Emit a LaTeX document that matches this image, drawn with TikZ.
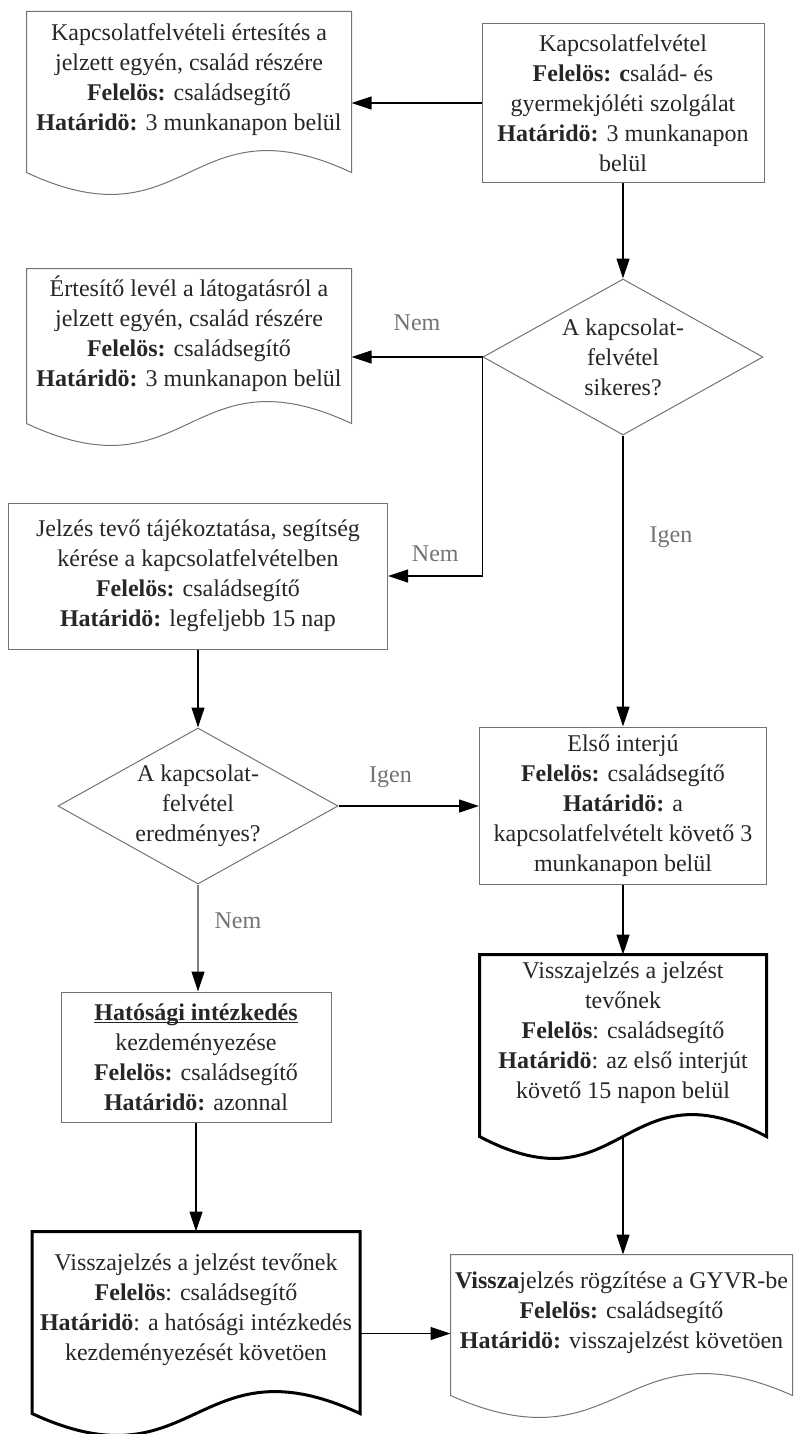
\documentclass[tikz,border=0pt]{standalone}
\usepackage{fontspec}
\setmainfont{Liberation Serif}
\usetikzlibrary{arrows.meta,positioning,shapes.geometric}

\tikzset{
  box/.style={draw=black!55, line width=0.5pt, align=center, inner sep=2pt,
    font=\fontsize{12}{15}\selectfont, text=black!85},
  docbox/.style={box, draw=none, text depth=15pt},
  docline/.style={draw=black!55, line width=0.5pt},
  thickdoc/.style={draw=black, line width=1.5pt},
  decision/.style={diamond, draw=black!55, line width=0.5pt, align=center, inner sep=0pt,
    shape aspect=1.78, minimum width=140pt, minimum height=78pt,
    font=\fontsize{12}{15}\selectfont, text=black!85},
  arr/.style={-{Triangle[length=10pt,width=6.5pt,black]}, line width=0.6pt},
  lbl/.style={text=black!55, font=\fontsize{12}{15}\selectfont, inner sep=1pt},
}

% document outline with a wavy bottom
\newcommand{\docshape}[2][]{%
  \draw[docline, #1] (#2.south east) -- (#2.north east) -- (#2.north west) -- (#2.south west)
    .. controls ([yshift=-38pt]#2.south) and ([yshift=38pt]#2.south) .. (#2.south east) -- cycle;}
% underline close to the baseline
\newcommand{\hatul}[1]{\setbox0\hbox{#1}\rlap{\rule[-1.6pt]{\wd0}{0.7pt}}\box0}

\begin{document}
\begin{tikzpicture}[x=0.5pt, y=-0.5pt]
  \useasboundingbox (0,0) rectangle (793,1434);

  % right column
  \node[box, minimum width=141pt, minimum height=79pt] (kapcs) at (623,103)
    {Kapcsolatfelvétel\\ \textbf{Felelös: c}salád- és\\ gyermekjóléti szolgálat\\
     \textbf{Határidö:} 3 munkanapon\\ belül};
  \node[decision] (sikeres) at (623,357) {A kapcsolat-\\felvétel\\sikeres?};
  \node[box, minimum width=143.5pt, minimum height=78.5pt] (interju) at (623,805.5)
    {Első interjú\\ \textbf{Felelös:} családsegítő\\ \textbf{Határidö:} a\\
     kapcsolatfelvételt követő 3\\ munkanapon belül};
  \node[docbox, minimum width=143pt, minimum height=90.5pt] (vissza) at (623,1045.5)
    {Visszajelzés a jelzést\\ tevőnek\\ \textbf{Felelös}: családsegítő\\
     \textbf{Határidö}: az első interjút\\ követő 15 napon belül};
  \node[docbox, minimum width=170.5pt, minimum height=70pt] (gyvr) at (621.5,1325)
    {\textbf{Vissza}jelzés rögzítése a GYVR-be\\ \textbf{Felelös:} családsegítő\\
     \textbf{Határidö:} visszajelzést követöen};

  % left column
  \node[docbox, minimum width=162pt, minimum height=80pt] (ertesites) at (189,92)
    {Kapcsolatfelvételi értesítés a\\ jelzett egyén, család részére\\
     \textbf{Felelös:} családsegítő\\ \textbf{Határidö:} 3 munkanapon belül};
  \node[docbox, minimum width=162pt, minimum height=77pt] (level) at (189,346)
    {Értesítő levél a látogatásról a\\ jelzett egyén, család részére\\
     \textbf{Felelös:} családsegítő\\ \textbf{Határidö:} 3 munkanapon belül};
  \node[box, minimum width=189.5pt, minimum height=73pt] (jelzo) at (198,576)
    {Jelzés tevő tájékoztatása, segítség\\ kérése a kapcsolatfelvételben\\
     \textbf{Felelös:} családsegítő\\ \textbf{Határidö:} legfeljebb 15 nap};
  \node[decision] (eredmenyes) at (198,806) {A kapcsolat-\\felvétel\\eredményes?};
  \node[box, minimum width=135pt, minimum height=65pt] (hatosagi) at (196,1057)
    {\hatul{\textbf{Hatósági intézkedés}}\\ kezdeményezése\\
     \textbf{Felelös:} családsegítő\\ \textbf{Határidö:} azonnal};
  \node[docbox, minimum width=163.5pt, minimum height=90.5pt] (visszaj) at (196,1322.5)
    {Visszajelzés a jelzést tevőnek\\ \textbf{Felelös}: családsegítő\\
     \textbf{Határidö}: a hatósági intézkedés\\ kezdeményezését követöen};

  % document outlines
  \docshape{ertesites}
  \docshape{level}
  \docshape{gyvr}
  \docshape[thickdoc]{vissza}
  \docshape[thickdoc]{visszaj}

  % connectors
  \draw[arr] (kapcs.west) -- (kapcs.west -| ertesites.east);
  \draw[arr] (kapcs.south) -- (kapcs.south |- sikeres.north);
  \draw[arr] (sikeres.west) -- node[lbl, above=12pt] {Nem} (sikeres.west -| level.east);
  \draw[arr] (sikeres.west) |- node[lbl, pos=0.75, above=6pt] {Nem} (jelzo.east);
  \draw[arr] (sikeres.south) -- node[lbl, pos=0.35, right=12pt] {Igen} (sikeres.south |- interju.north);
  \draw[arr] (jelzo.south) -- (jelzo.south |- eredmenyes.north);
  \draw[arr] (eredmenyes.east) -- node[lbl, pos=0.37, above=8pt] {Igen} (eredmenyes.east -| interju.west);
  \draw[arr, draw=black!50] (eredmenyes.south) -- node[lbl, pos=0.34, right=7pt] {Nem} (eredmenyes.south |- hatosagi.north);
  \draw[arr] (hatosagi.south) -- (hatosagi.south |- visszaj.north);
  \draw[arr] (interju.south) -- (interju.south |- vissza.north);
  \draw[arr] (vissza.south) -- (vissza.south |- gyvr.north);
  \draw[arr] ([yshift=-5.5pt]visszaj.east) -- ([yshift=-5.5pt]visszaj.east -| gyvr.west);
\end{tikzpicture}
\end{document}
